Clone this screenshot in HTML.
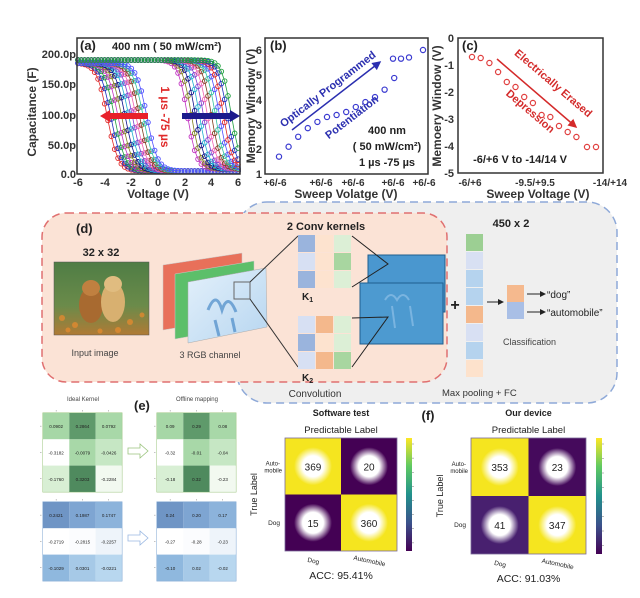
<!DOCTYPE html>
<html><head><meta charset="utf-8"><style>
html,body{margin:0;padding:0;background:#fff;}
svg{display:block;font-family:"Liberation Sans",Arial,sans-serif;}
.b{font-weight:bold;}
</style></head><body>
<svg id="s" width="640" height="598" viewBox="0 0 640 598" xmlns="http://www.w3.org/2000/svg">
<defs>
<radialGradient id="glow"><stop offset="0.55" stop-color="#fff"/><stop offset="1" stop-color="#fff" stop-opacity="0"/></radialGradient>
<linearGradient id="vir" x1="0" y1="0" x2="0" y2="1">
<stop offset="0" stop-color="#fde725"/><stop offset="0.25" stop-color="#5ec962"/><stop offset="0.5" stop-color="#21918c"/><stop offset="0.75" stop-color="#3b528b"/><stop offset="1" stop-color="#440154"/></linearGradient>
<linearGradient id="grass" x1="0" y1="0" x2="0" y2="1"><stop offset="0" stop-color="#4f7d45"/><stop offset="0.6" stop-color="#6b8b4a"/><stop offset="1" stop-color="#b07a35"/></linearGradient>
<linearGradient id="bluech" x1="0" y1="0" x2="1" y2="1"><stop offset="0" stop-color="#e3f0fb"/><stop offset="1" stop-color="#b7d6f0"/></linearGradient>
<marker id="ab" markerWidth="6" markerHeight="6" refX="5" refY="3" orient="auto"><path d="M0,0 L6,3 L0,6z" fill="#2b2fb0"/></marker>
<marker id="ar" markerWidth="6" markerHeight="6" refX="5" refY="3" orient="auto"><path d="M0,0 L6,3 L0,6z" fill="#d42a2a"/></marker>
<marker id="ak" markerWidth="6" markerHeight="6" refX="5" refY="3" orient="auto"><path d="M0,0 L6,3 L0,6z" fill="#222"/></marker>
</defs>

<!-- ===== Panel (a) ===== -->
<g id="pa"></g>
<rect x="77" y="38" width="163" height="136" fill="none" stroke="#333" stroke-width="1.5"/>
<g font-size="11" class="b" fill="#333" text-anchor="end">
<text x="76" y="58">200.0p</text><text x="76" y="88">150.0p</text><text x="76" y="119">100.0p</text><text x="76" y="149">50.0p</text><text x="76" y="178">0.0</text>
</g>
<g font-size="11" class="b" fill="#333" text-anchor="middle">
<text x="78" y="186">-6</text><text x="105" y="186">-4</text><text x="131" y="186">-2</text><text x="158" y="186">0</text><text x="185" y="186">2</text><text x="211" y="186">4</text><text x="238" y="186">6</text>
<text x="158" y="198" font-size="12">Voltage (V)</text>
<text transform="translate(36,112) rotate(-90)" font-size="12">Capacitance (F)</text>
</g>
<text x="80" y="50" font-size="13" class="b" fill="#222">(a)</text>
<text x="112" y="50" font-size="11" class="b" fill="#222">400 nm ( 50 mW/cm²)</text>
<line x1="148" y1="116" x2="106" y2="116" stroke="#e8202a" stroke-width="6"/><path d="M110,110 L100,116 L110,122z" fill="#e8202a"/>
<line x1="182" y1="116" x2="232" y2="116" stroke="#1c1a8c" stroke-width="6"/><path d="M230,110 L240,116 L230,122z" fill="#1c1a8c"/>
<text transform="translate(161,117) rotate(90)" font-size="12" class="b" fill="#e02a2a" text-anchor="middle">1 µs -75 µs</text>

<!-- ===== Panel (b) ===== -->
<g id="pb"></g>
<rect x="265" y="38" width="163" height="136" fill="none" stroke="#333" stroke-width="1.5"/>
<g font-size="11" class="b" fill="#333" text-anchor="end">
<text x="262" y="54">6</text><text x="262" y="79">5</text><text x="262" y="104">4</text><text x="262" y="129">3</text><text x="262" y="153">2</text><text x="262" y="178">1</text>
</g>
<g font-size="10" class="b" fill="#333" text-anchor="middle">
<text x="275" y="186">+6/-6</text><text x="321" y="186">+6/-6</text><text x="353" y="186">+6/-6</text><text x="393" y="186">+6/-6</text><text x="424" y="186">+6/-6</text>
<text x="346" y="198" font-size="12">Sweep Volatge (V)</text>
<text transform="translate(255,106) rotate(-90)" font-size="12">Memory Window (V)</text>
</g>
<text x="270" y="50" font-size="13" class="b" fill="#222">(b)</text>
<line x1="292" y1="130" x2="380" y2="62" stroke="#2b2fb0" stroke-width="1.5" marker-end="url(#ab)"/>
<text transform="translate(330,92) rotate(-37.5)" font-size="11" class="b" fill="#2b2fb0" text-anchor="middle">Optically Programmed</text>
<text transform="translate(354,120) rotate(-37.5)" font-size="11" class="b" fill="#2b2fb0" text-anchor="middle">Potentiation</text>
<g font-size="11" class="b" fill="#222" text-anchor="middle">
<text x="387" y="134">400 nm</text><text x="387" y="150">( 50 mW/cm²)</text><text x="387" y="166">1 µs -75 µs</text>
</g>

<!-- ===== Panel (c) ===== -->
<g id="pc"></g>
<rect x="458" y="38" width="145" height="135" fill="none" stroke="#333" stroke-width="1.5"/>
<g font-size="11" class="b" fill="#333" text-anchor="end">
<text x="454" y="42">0</text><text x="454" y="69">-1</text><text x="454" y="96">-2</text><text x="454" y="123">-3</text><text x="454" y="150">-4</text><text x="454" y="177">-5</text>
</g>
<g font-size="10" class="b" fill="#333" text-anchor="middle">
<text x="470" y="186">-6/+6</text><text x="535" y="186">-9.5/+9.5</text><text x="610" y="186">-14/+14</text>
<text x="538" y="198" font-size="12">Sweep Voltage (V)</text>
<text transform="translate(441,106) rotate(-90)" font-size="12">Memoery Window (V)</text>
</g>
<text x="462" y="50" font-size="13" class="b" fill="#222">(c)</text>
<line x1="497" y1="59" x2="576" y2="127" stroke="#d42a2a" stroke-width="1.5" marker-end="url(#ar)"/>
<text transform="translate(551,86) rotate(40.5)" font-size="11" class="b" fill="#d42a2a" text-anchor="middle">Electrically  Erased</text>
<text transform="translate(528,114) rotate(40.5)" font-size="11" class="b" fill="#d42a2a" text-anchor="middle">Depression</text>
<text x="520" y="163" font-size="11" class="b" fill="#222" text-anchor="middle">-6/+6 V to -14/14 V</text>

<!-- ===== Panel (d) ===== -->
<rect x="237" y="202" width="380" height="201" rx="30" fill="#efefef" stroke="#8ea9d8" stroke-width="1.5" stroke-dasharray="8,5"/>
<rect x="42" y="213" width="405" height="169" rx="24" fill="#fbe3d6" stroke="#e07070" stroke-width="1.5" stroke-dasharray="8,5"/>
<text x="76" y="233" font-size="13" class="b" fill="#222">(d)</text>
<text x="101" y="256" font-size="11" class="b" fill="#222" text-anchor="middle">32 x 32</text>
<rect x="54" y="262" width="95" height="73" fill="url(#grass)"/>
<g fill="#e08a30" opacity="0.8"><circle cx="62" cy="318" r="3"/><circle cx="75" cy="325" r="3"/><circle cx="90" cy="320" r="2.5"/><circle cx="130" cy="322" r="3"/><circle cx="142" cy="315" r="2.5"/><circle cx="118" cy="330" r="3"/><circle cx="68" cy="330" r="2.5"/><circle cx="100" cy="331" r="2.5"/></g>
<ellipse cx="91" cy="305" rx="12" ry="18" fill="#a86a30"/><ellipse cx="91" cy="288" rx="9" ry="8" fill="#c08040"/>
<ellipse cx="113" cy="302" rx="12" ry="20" fill="#d8b070"/><ellipse cx="113" cy="284" rx="9" ry="8" fill="#e0bc80"/>
<rect x="54" y="262" width="95" height="73" fill="none" stroke="#555" stroke-width="0.5"/>
<text x="95" y="356" font-size="9" fill="#444" text-anchor="middle">Input image</text>
<polygon points="163,265 242,253 242,317 163,330" fill="#e8705a" stroke="#c9c9c9" stroke-width="0.5"/>
<polygon points="175,274 254,261 254,325 175,339" fill="#5cbf6a" stroke="#c9c9c9" stroke-width="0.5"/>
<polygon points="188,282 266,268 267,327 188,343" fill="url(#bluech)" stroke="#aaa" stroke-width="0.5"/>
<path d="M208,310 q8,-20 14,0 q6,-18 14,2 M215,320 l4,16 M232,318 l3,14" stroke="#4a8ac8" stroke-width="3" fill="none" opacity="0.7"/>
<rect x="234" y="282" width="16" height="17" fill="none" stroke="#666" stroke-width="1"/>
<text x="210" y="358" font-size="9" fill="#444" text-anchor="middle">3 RGB channel</text>
<line x1="250" y1="282" x2="298" y2="236" stroke="#333" stroke-width="1"/>
<line x1="250" y1="299" x2="298" y2="367" stroke="#333" stroke-width="1"/>
<text x="326" y="230" font-size="11" class="b" fill="#222" text-anchor="middle">2 Conv kernels</text>
<g id="kern"></g>
<text x="302" y="300" font-size="10" class="b" fill="#222">K<tspan font-size="7" dy="2">1</tspan></text>
<text x="302" y="381" font-size="10" class="b" fill="#222">K<tspan font-size="7" dy="2">2</tspan></text>
<rect x="368" y="255" width="77" height="57" fill="#4a97cf" stroke="#1f5f8f"/>
<rect x="360" y="283" width="83" height="61" fill="#4d9ad0" stroke="#1f5f8f"/>
<path d="M385,300 q6,-10 12,0 q6,-10 12,0 M392,306 l3,22 M410,306 l3,20" stroke="#7ab4e0" stroke-width="2" fill="none"/>
<polyline points="352,236 388,264 352,287" fill="none" stroke="#222" stroke-width="1"/>
<polyline points="352,318 388,317 352,367" fill="none" stroke="#222" stroke-width="1"/>
<text x="315" y="397" font-size="10" fill="#333" text-anchor="middle">Convolution</text>
<text x="455" y="310" font-size="16" class="b" fill="#222" text-anchor="middle">+</text>
<g id="col"></g>
<text x="511" y="227" font-size="11" class="b" fill="#222" text-anchor="middle">450 x 2</text>
<line x1="487" y1="302" x2="503" y2="302" stroke="#222" marker-end="url(#ak)"/>
<rect x="507" y="285" width="17" height="17" fill="#f5b98e"/><rect x="507" y="302" width="17" height="17" fill="#a9bfe6"/>
<line x1="527" y1="294" x2="545" y2="294" stroke="#222" marker-end="url(#ak)"/>
<line x1="527" y1="312" x2="545" y2="312" stroke="#222" marker-end="url(#ak)"/>
<text x="547" y="298" font-size="10" fill="#222">“dog”</text>
<text x="547" y="316" font-size="10" fill="#222">“automobile”</text>
<text x="503" y="345" font-size="9" fill="#444">Classification</text>
<text x="442" y="396" font-size="9.5" fill="#333">Max pooling  + FC</text>

<!-- ===== Panel (e) ===== -->
<text x="83" y="401" font-size="6" fill="#444" text-anchor="middle">Ideal Kernel</text>
<text x="197" y="401" font-size="6" fill="#444" text-anchor="middle">Offline mapping</text>
<text x="134" y="410" font-size="13" class="b" fill="#222">(e)</text>
<g id="tabs"></g>
<path d="M128,448 h12 v-4 l8,7 l-8,7 v-4 h-12z" fill="#fff" stroke="#9bc47e" stroke-width="0.8"/>
<path d="M128,535 h12 v-4 l8,7 l-8,7 v-4 h-12z" fill="#fff" stroke="#9ab8e2" stroke-width="0.8"/>

<!-- ===== Panel (f) ===== -->
<text x="428" y="420" font-size="13" class="b" fill="#222" text-anchor="middle">(f)</text>
<g id="cm"></g>
</svg>
<script>
var NS="http://www.w3.org/2000/svg";
function el(p,t,a){var e=document.createElementNS(NS,t);for(var k in a)e.setAttribute(k,a[k]);document.getElementById(p).appendChild(e);return e;}
var cols=["#e02a2a","#2030c0","#20a040","#c030c0","#808020","#10108a","#20b0d0","#8040d0","#f060b0","#804020","#30c0a0","#5050ff"];
function X(v){return 78+(v+6)*160/12;} function Y(c){return 174-c*0.6;}
for(var i=0;i<12;i++){var v0=-3.8+i*0.27;var col=cols[i%cols.length];var pts=[];
 for(var v=-6;v<=6.001;v+=0.25){var c=5+180/(1+Math.exp((v-v0)/0.4));pts.push([X(v),Y(c)]);}
 el("pa","polyline",{points:pts.map(function(p){return p.join(",")}).join(" "),fill:"none",stroke:col,"stroke-width":0.8});
 pts.forEach(function(p){el("pa","circle",{cx:p[0],cy:p[1],r:2.3,fill:"none",stroke:col,"stroke-width":0.9});});}
for(var i=0;i<12;i++){var v0=2.2+i*0.3;var col=cols[(i+3)%cols.length];var pts=[];
 for(var v=-6;v<=6.001;v+=0.25){var c=8+182/(1+Math.exp((v-v0)/0.35));pts.push([X(v),Y(c)]);}
 el("pa","polyline",{points:pts.map(function(p){return p.join(",")}).join(" "),fill:"none",stroke:col,"stroke-width":0.8});
 pts.forEach(function(p){el("pa","circle",{cx:p[0],cy:p[1],r:2.3,fill:"none",stroke:col,"stroke-width":0.9});});}
// panel b
var bv=[1.7,2.1,2.5,2.85,3.1,3.3,3.38,3.5,3.7,3.9,4.1,4.4,4.87];
bv.forEach(function(v,i){el("pb","circle",{cx:279+i*9.6,cy:174-(v-1)*24.8,r:2.6,fill:"none",stroke:"#3a3ad0","stroke-width":1.2});});
[[393,5.65],[401,5.65],[409,5.7],[423,6.0]].forEach(function(p){el("pb","circle",{cx:p[0],cy:174-(p[1]-1)*24.8,r:2.6,fill:"none",stroke:"#3a3ad0","stroke-width":1.2});});
// panel c
var cy=[57,58,63,72,82,87,97,103,115,117,126,132,137,147,147];
cy.forEach(function(y,i){var x=i<13?472+i*8.7:(i==13?587:596);el("pc","circle",{cx:x,cy:y,r:2.6,fill:"none",stroke:"#e04040","stroke-width":1.2});});
// kernels
var K1=[["#9ab4dd","#fde3cf","#dcefd6"],["#d7e0f3","#fde3cf","#a8d6a0"],["#9ab4dd","#fde3cf","#dcefd6"]];
var K2=[["#d7e0f3","#f4b88c","#dcefd6"],["#9ab4dd","#fde3cf","#dcefd6"],["#d7e0f3","#f4b88c","#a8d6a0"]];
function grid(K,x0,y0){for(var r=0;r<3;r++)for(var c=0;c<3;c++)el("kern","rect",{x:x0+c*18,y:y0+r*18,width:17,height:17,fill:K[r][c]});}
grid(K1,298,235);grid(K2,298,316);
var cc=["#9ccf93","#d8e0f3","#b5d3ee","#b5d3ee","#f4b88c","#d8e0f3","#b5d3ee","#fde2cc"];
cc.forEach(function(c,i){el("col","rect",{x:466,y:234+i*18,width:17,height:17,fill:c});});
function tab(x0,y0,fills,vals,bd){var w=26.3;el("tabs","rect",{x:x0,y:y0,width:3*w,height:3*w,fill:"#fff",stroke:bd,"stroke-width":1});
 for(var r=0;r<3;r++)for(var c=0;c<3;c++){el("tabs","rect",{x:x0+c*w,y:y0+r*w,width:w,height:w,fill:fills[r][c]});
 var t=el("tabs","text",{x:x0+c*w+w/2,y:y0+r*w+w/2+2,"font-size":4.5,"text-anchor":"middle",fill:"#222"});t.textContent=vals[r][c];}
 for(var c=0;c<3;c++){el("tabs","line",{x1:x0+c*w+w/2,y1:y0-3,x2:x0+c*w+w/2,y2:y0-1.5,stroke:"#888","stroke-width":0.5});}
 for(var r=0;r<3;r++){el("tabs","line",{x1:x0-3,y1:y0+r*w+w/2,x2:x0-1.5,y2:y0+r*w+w/2,stroke:"#888","stroke-width":0.5});}}
var G=[["#a6d7a6","#5f9a6b","#a8d8a8"],["#ffffff","#a8d8a8","#c6e7c4"],["#d8efd4","#4f8a5e","#f2f9f0"]];
var B=[["#6f95c5","#7ea5d2","#8cb3db"],["#ffffff","#fbfcfe","#eef4fa"],["#8fb8de","#a6c9e7","#b8d7ef"]];
tab(43,413,G,[["0.0902","0.2864","0.0792"],["-0.3182","-0.0079","-0.0426"],["-0.1760","0.3203","-0.2284"]],"#9bc47e");
tab(157,413,G,[["0.09","0.29","0.08"],["-0.32","-0.01","-0.04"],["-0.18","0.32","-0.23"]],"#9bc47e");
tab(43,502,B,[["0.2421","0.1987","0.1747"],["-0.2719","-0.2815","-0.2257"],["-0.1029","0.0301","-0.0221"]],"#7ea5d2");
tab(157,502,B,[["0.24","0.20","0.17"],["-0.27","-0.28","-0.23"],["-0.10","0.02","-0.02"]],"#7ea5d2");
function cm(x0,y0,w,h,vals,dk,title,acc,cbx){var mx=x0+w/2,my=y0+h/2;
 function t(x,y,s,fs,extra){var e=el("cm","text",Object.assign({x:x,y:y,"font-size":fs,"text-anchor":"middle",fill:"#222"},extra||{}));e.textContent=s;return e;}
 t(mx,y0-22,title,9,{"font-weight":"bold"});t(mx,y0-5,"Predictable Label",9.5);
 var f=[["#f5e51f",dk[0]],[dk[1],"#f5e51f"]];
 for(var r=0;r<2;r++)for(var c=0;c<2;c++){el("cm","rect",{x:x0+c*w/2,y:y0+r*h/2,width:w/2,height:h/2,fill:f[r][c]});
  var cx=x0+c*w/2+w/4,cy=y0+r*h/2+h/4;el("cm","circle",{cx:cx,cy:cy,r:19,fill:"url(#glow)"});t(cx,cy+4,vals[r][c],10);}
 el("cm","rect",{x:x0,y:y0,width:w,height:h,fill:"none",stroke:"#7a6a9a","stroke-width":0.8});
 el("cm","rect",{x:cbx,y:y0,width:6,height:h,fill:"url(#vir)"});
 for(var k=0;k<8;k++)el("cm","line",{x1:cbx+6,y1:y0+6+k*h/8,x2:cbx+8,y2:y0+6+k*h/8,stroke:"#555","stroke-width":0.4});
 t(x0-5,my-h/4-1,"Auto-",6,{"text-anchor":"end"});t(x0-3,my-h/4+6,"mobile",6,{"text-anchor":"end"});
 t(x0-5,my+h/4+2,"Dog",6.5,{"text-anchor":"end"});
 t(0,0,"True Label",9,{transform:"translate("+(x0-28)+","+my+") rotate(-90)"});
 t(0,0,"Dog",6.5,{transform:"translate("+(x0+w/4)+","+(y0+h+12)+") rotate(12)"});
 t(0,0,"Automobile",6.5,{transform:"translate("+(x0+3*w/4)+","+(y0+h+12)+") rotate(12)"});
 t(mx,y0+h+28,acc,10.5);}
cm(285,438,112,113,[["369","20"],["15","360"]],["#440154","#440154"],"Software test","ACC: 95.41%",406);
cm(471,438,115,116,[["353","23"],["41","347"]],["#450a5c","#48206f"],"Our device","ACC: 91.03%",596);
</script>
</body></html>
